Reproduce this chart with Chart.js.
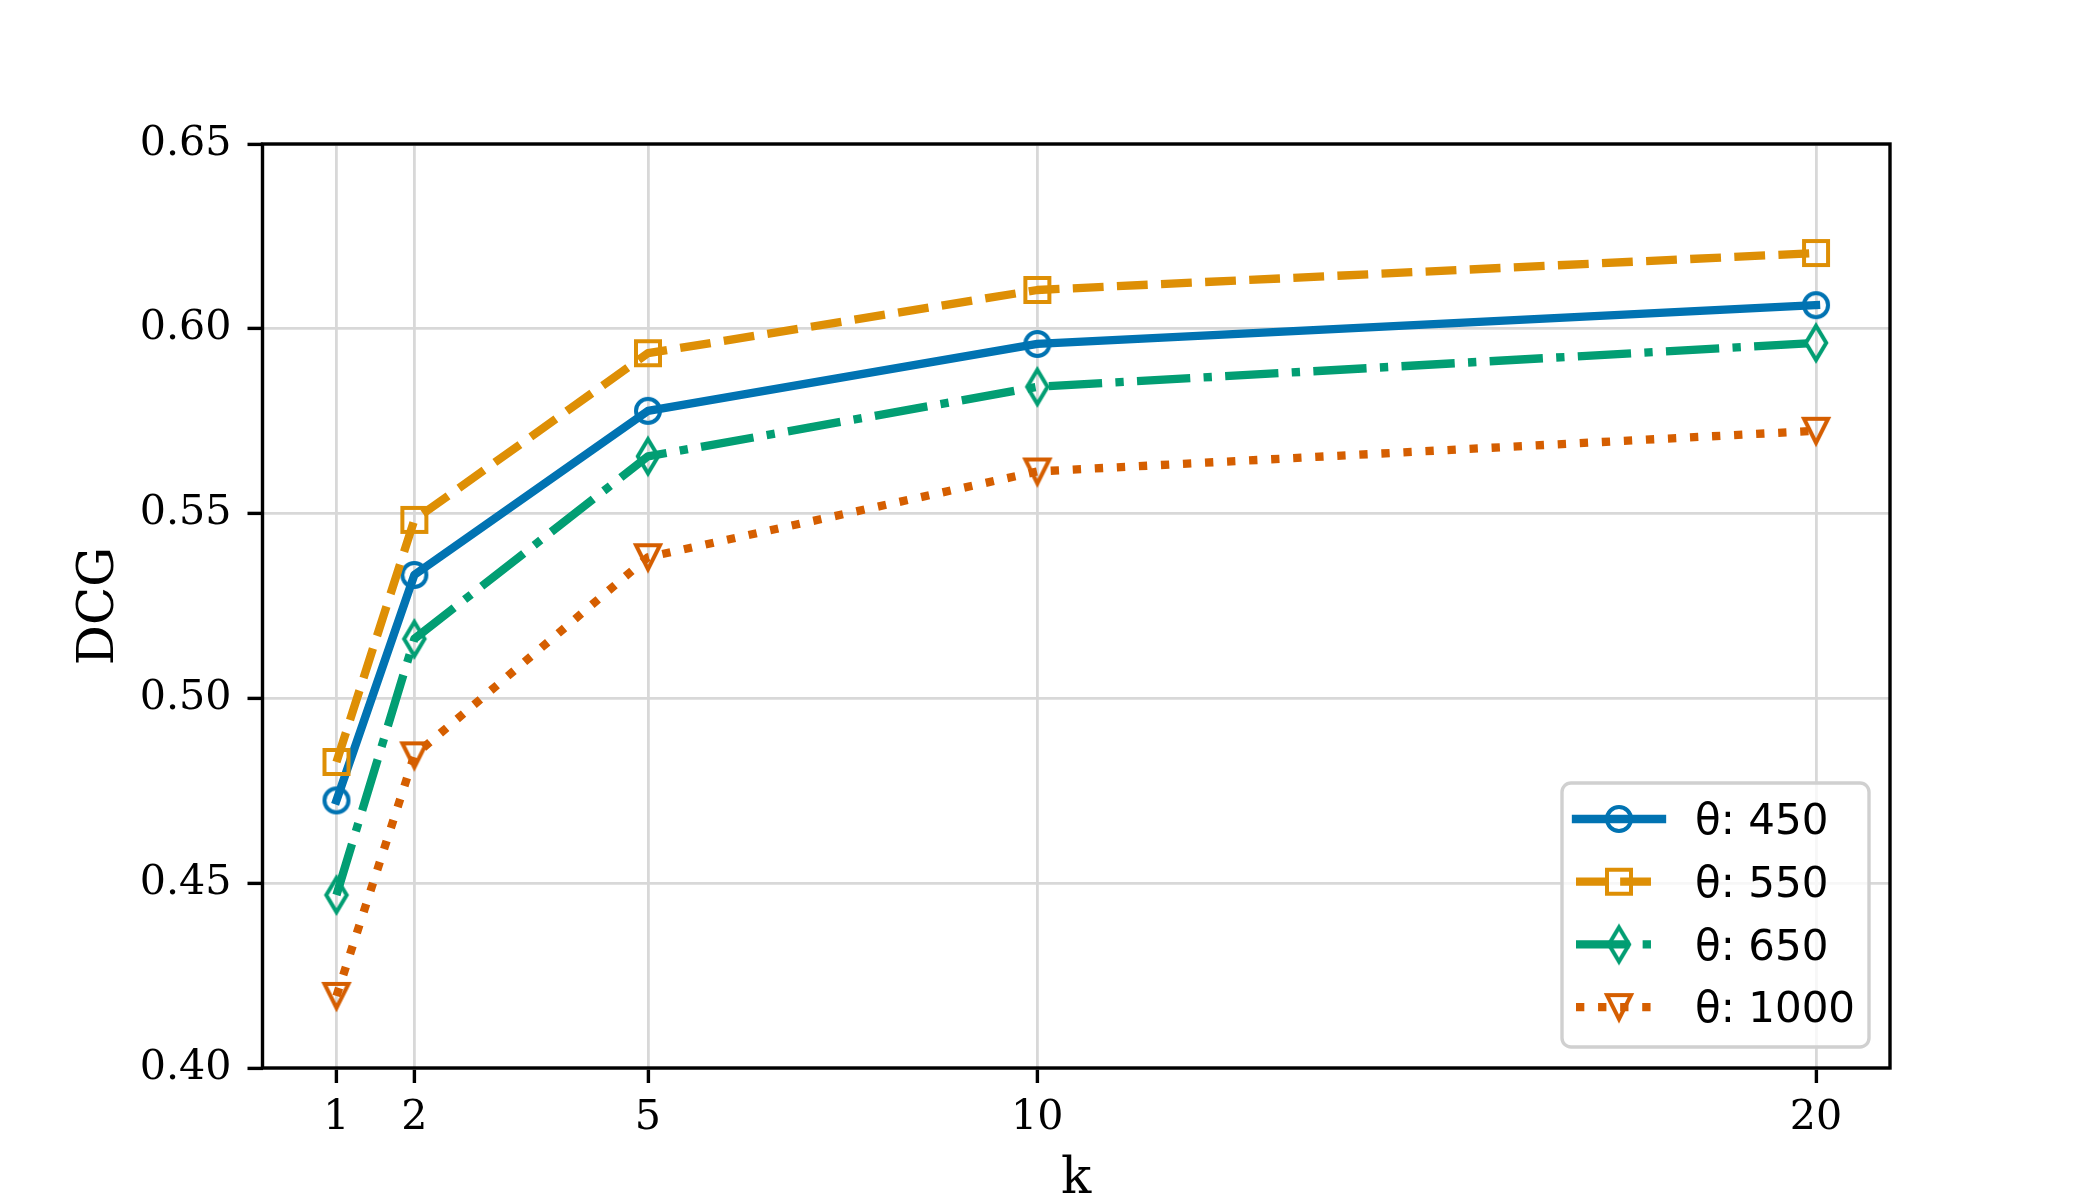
<!DOCTYPE html>
<html>
<head>
<meta charset="utf-8">
<script src="https://cdn.jsdelivr.net/npm/chart.js@4.4.1/dist/chart.umd.min.js"></script>
<style>
html, body { margin: 0; padding: 0; background: #fff; }
#chart { display: block; }
</style>
</head>
<body>
<canvas id="chart" width="2100" height="1200" style="width:2100px;height:1200px"></canvas>
<script>
// values
var kValues = [1, 2, 5, 10, 20];
var seriesLabels = ['θ: 450', 'θ: 550', 'θ: 650', 'θ: 1000'];
var dcg450 = [0.4724, 0.5334, 0.5778, 0.5959, 0.6064];
var dcg550 = [0.4828, 0.5483, 0.5934, 0.6105, 0.6205];
var dcg650 = [0.4468, 0.5161, 0.5655, 0.5843, 0.5962];
var dcg1000 = [0.4195, 0.4846, 0.5382, 0.5614, 0.5724];
var xTicks = [1, 2, 5, 10, 20];
var yTicks = [0.40, 0.45, 0.50, 0.55, 0.60, 0.65];

var LW = 8.33; // 2pt at 300dpi

// hollow matplotlib-like markers
function marker(shape, color) {
  var s = 48, m = s / 2;
  var c = document.createElement('canvas');
  c.width = s; c.height = s;
  var g = c.getContext('2d');
  g.strokeStyle = color;
  g.lineWidth = 4;
  g.lineJoin = 'miter';
  g.beginPath();
  if (shape === 'o') {
    g.arc(m, m, 12, 0, Math.PI * 2);
  } else if (shape === 's') {
    g.rect(m - 12, m - 12, 24, 24);
  } else if (shape === 'd') {
    g.moveTo(m, m - 17); g.lineTo(m + 10.2, m); g.lineTo(m, m + 17); g.lineTo(m - 10.2, m); g.closePath();
  } else {
    g.moveTo(m - 12, m - 12); g.lineTo(m + 12, m - 12); g.lineTo(m, m + 12); g.closePath();
  }
  g.stroke();
  return c;
}

function pts(vals) {
  return kValues.map(function (k, i) { return { x: k, y: vals[i] }; });
}

function series(label, vals, color, shape, dash, order) {
  return {
    label: label,
    data: pts(vals),
    borderColor: color,
    backgroundColor: color,
    borderWidth: LW,
    borderDash: dash,
    borderCapStyle: dash.length ? 'butt' : 'square',
    borderJoinStyle: 'round',
    pointStyle: marker(shape, color),
    pointRadius: 12,
    pointHoverRadius: 12,
    tension: 0,
    fill: false,
    order: order
  };
}

var datasets = [
  series(seriesLabels[0], dcg450, '#0173b2', 'o', [], 3),
  series(seriesLabels[1], dcg550, '#de8f05', 's', [3.7 * LW, 1.6 * LW], 2),
  series(seriesLabels[2], dcg650, '#029e73', 'd', [6.4 * LW, 1.6 * LW, 1 * LW, 1.6 * LW], 1),
  series(seriesLabels[3], dcg1000, '#d55e00', 'v', [1 * LW, 1.65 * LW], 0)
];

var frame = {
  id: 'frame',
  afterDatasetsDraw: function (chart) {
    var a = chart.chartArea, ctx = chart.ctx;
    ctx.save();
    ctx.strokeStyle = '#000';
    ctx.lineWidth = 3.4;
    ctx.strokeRect(a.left, a.top, a.right - a.left, a.bottom - a.top);
    ctx.restore();
  }
};

// legend drawn like matplotlib: line + marker handle inside a rounded box
var mplLegend = {
  id: 'mplLegend',
  afterDraw: function (chart) {
    var a = chart.chartArea, ctx = chart.ctx;
    var w = 307, h = 264;
    var x0 = a.right - 21 - w, y0 = a.bottom - 21 - h;
    ctx.save();
    ctx.beginPath();
    ctx.roundRect(x0, y0, w, h, 9);
    ctx.fillStyle = 'rgba(255,255,255,0.8)';
    ctx.fill();
    ctx.lineWidth = 3.4;
    ctx.strokeStyle = '#d0d0d0';
    ctx.stroke();
    chart.data.datasets.forEach(function (ds, i) {
      var y = y0 + 36 + i * 62.7;
      var hx0 = x0 + 14, hx1 = x0 + 100;
      ctx.save();
      ctx.strokeStyle = ds.borderColor;
      ctx.lineWidth = ds.borderWidth;
      ctx.lineCap = ds.borderCapStyle;
      ctx.setLineDash(ds.borderDash);
      ctx.beginPath();
      ctx.moveTo(hx0, y);
      ctx.lineTo(hx1, y);
      ctx.stroke();
      ctx.restore();
      var img = ds.pointStyle;
      ctx.drawImage(img, (hx0 + hx1) / 2 - img.width / 2, y - img.height / 2);
      ctx.fillStyle = '#000';
      ctx.font = '42px "DejaVu Sans"';
      ctx.textBaseline = 'alphabetic';
      ctx.textAlign = 'left';
      ctx.fillText(ds.label, x0 + 133, y + 15.3);
    });
    ctx.restore();
  }
};

var tickFont = { family: 'DejaVu Serif', size: 41.2 };
var titleFont = { family: 'DejaVu Serif', size: 50, lineHeight: 1 };
var gridOpts = { color: '#d8d8d8', lineWidth: 2.8, tickColor: '#000', tickWidth: 3.4, tickLength: 15 };

var ctx = document.getElementById('chart').getContext('2d');
var chart = new Chart(ctx, {
  type: 'line',
  data: { datasets: datasets },
  options: {
    responsive: false,
    devicePixelRatio: 1,
    animation: false,
    events: [],
    layout: { padding: { left: 0, top: 144, right: 210, bottom: 0 } },
    plugins: {
      legend: { display: false },
      tooltip: { enabled: false }
    },
    scales: {
      x: {
        type: 'linear',
        min: 0.05,
        max: 20.95,
        afterBuildTicks: function (s) { s.ticks = xTicks.map(function (v) { return { value: v }; }); },
        afterFit: function (s) { s.height = 132; },
        ticks: {
          font: tickFont, color: '#000', padding: 11, maxRotation: 0, autoSkip: false,
          callback: function (v) { return String(v); }
        },
        grid: gridOpts,
        border: { display: false },
        title: { display: true, text: 'k', font: titleFont, color: '#000', padding: { top: 0, bottom: -5 } }
      },
      y: {
        type: 'linear',
        min: 0.40,
        max: 0.65,
        afterBuildTicks: function (s) { s.ticks = yTicks.map(function (v) { return { value: v }; }); },
        afterFit: function (s) { s.width = 262.5; },
        ticks: {
          font: tickFont, color: '#000', padding: 16,
          callback: function (v) { return Number(v).toFixed(2); }
        },
        grid: gridOpts,
        border: { display: false },
        title: { display: true, text: 'DCG', font: titleFont, color: '#000', padding: { top: 75, bottom: 0 } }
      }
    }
  },
  plugins: [frame, mplLegend]
});
</script>
</body>
</html>
